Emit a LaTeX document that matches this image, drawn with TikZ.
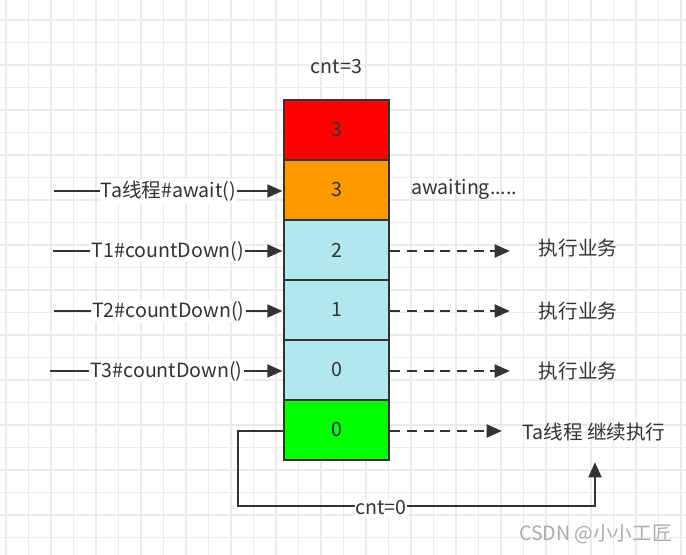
\documentclass[tikz,border=0pt]{standalone}
\usepackage{fontspec}
\setmainfont{Noto Sans CJK SC}
\usetikzlibrary{arrows.meta}
\definecolor{ink}{HTML}{333333}
\definecolor{gminor}{HTML}{EBEBEB}
\definecolor{gmajor}{HTML}{DCDCDC}
\definecolor{cred}{HTML}{FF0000}
\definecolor{corange}{HTML}{FF9900}
\definecolor{cblue}{HTML}{B0E8EE}
\definecolor{cgreen}{HTML}{00FF00}
\tikzset{
  fnt/.style={font=\fontsize{14.7}{17}\selectfont},
  cell/.style={draw=ink, line width=2.1pt, minimum width=78.75pt, minimum height=45pt, inner sep=0pt, fnt, text=ink},
  arr/.style={draw=ink, line width=2.2pt, -{Triangle[length=11.5pt,width=9.5pt]}},
  darr/.style={arr, dash pattern=on 7.5pt off 5pt},
  lab/.style={fill=white, inner sep=1pt, text=ink, fnt},
  txt/.style={inner sep=0pt, text=ink, fnt},
}
\begin{document}
\begin{tikzpicture}[x=0.75pt,y=-0.75pt]
\useasboundingbox (0,0) rectangle (686,555);
\fill[white] (0,0) rectangle (686,555);
% grid
\foreach \i in {0,...,30} {
  \pgfmathsetmacro{\gx}{6+22.5*\i}
  \pgfmathsetmacro{\gy}{20+22.5*\i}
  \ifnum\numexpr\i-4*(\i/4)\relax=2 \def\gc{gmajor}\else\def\gc{gminor}\fi
  \draw[\gc, line width=0.9pt] (\gx,0) -- (\gx,555);
  \draw[\gc, line width=0.9pt] (0,\gy) -- (686,\gy);
}
% title
\node[txt] (top) at (336.5,67) {cnt=3};
% column
\node[cell, fill=cred]    (b1) at (336.5,130) {3};
\node[cell, fill=corange] (b2) at (336.5,190) {3};
\node[cell, fill=cblue]   (b3) at (336.5,250) {2};
\node[cell, fill=cblue]   (b4) at (336.5,310) {1};
\node[cell, fill=cblue]   (b5) at (336.5,370) {0};
\node[cell, fill=cgreen]  (b6) at (336.5,430) {0};
% left incoming
\coordinate (l2) at (54,191);
\coordinate (l3) at (53,251);
\coordinate (l4) at (54,311);
\coordinate (l5) at (50,371);
\draw[arr] (l2) -- (l2 -| b2.west) node[midway, lab] {Ta线程\#await()};
\draw[arr] (l3) -- (l3 -| b3.west) node[midway, lab] {T1\#countDown()};
\draw[arr] (l4) -- (l4 -| b4.west) node[midway, lab] {T2\#countDown()};
\draw[arr] (l5) -- (l5 -| b5.west) node[midway, lab] {T3\#countDown()};
% right
\node[txt, anchor=west] (aw) at (411,189) {awaiting.....};
\coordinate (r3) at (510,251);
\coordinate (r4) at (510,311);
\coordinate (r5) at (510,371);
\coordinate (r6) at (502,431);
\draw[darr] (r3 -| b3.east) -- (r3);
\draw[darr] (r4 -| b4.east) -- (r4);
\draw[darr] (r5 -| b5.east) -- (r5);
\draw[darr] (r6 -| b6.east) -- (r6);
\node[txt] (t3) at (578,248) {执行业务};
\node[txt] (t4) at (578,311) {执行业务};
\node[txt] (t5) at (578,371) {执行业务};
\node[txt] (t6) at (594,432) {Ta线程 继续执行};
% loop
\coordinate (lpA) at (238,506);
\coordinate (tgt) at (595,462);
\draw[arr] (r6 -| b6.west) -| (lpA) -| (tgt);
\node[lab, inner sep=0.5pt] (c0) at (381,508) {cnt=0};
% watermark
\node[txt, text=gray!65, anchor=east] (wm) at (672,534) {CSDN @小小工匠};
\end{tikzpicture}
\end{document}
